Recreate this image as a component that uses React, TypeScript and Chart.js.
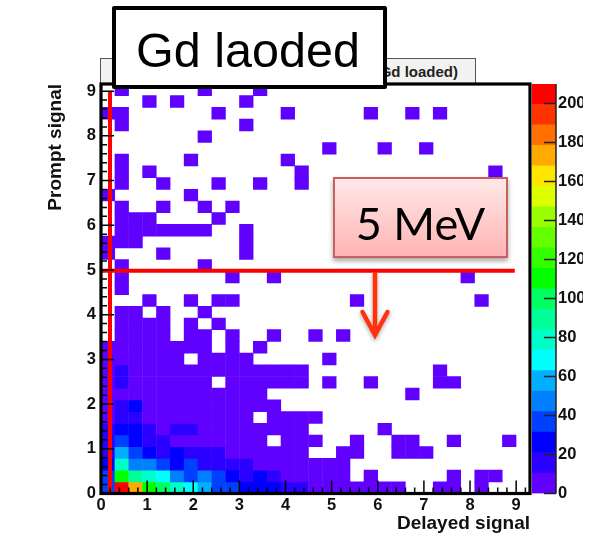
import React, { useEffect, useRef } from "react";
import { Chart, registerables } from "chart.js";

Chart.register(...registerables);

const FONT = "'Liberation Sans', Arial, sans-serif";
const xTitle = "Delayed signal";
const yTitle = "Prompt signal";
const X_MAX = 9.3;
const Y_MAX = 9.16;
const COL_WIDTH = 0.3;
const ROW_COUNT = 35;
const Z_MAX = 210;
const Z_STEP = 10.5;
const xMajorTicks = [0, 1, 2, 3, 4, 5, 6, 7, 8, 9];
const yMajorTicks = [0, 1, 2, 3, 4, 5, 6, 7, 8, 9];
const zTicks = [0, 20, 40, 60, 80, 100, 120, 140, 160, 180, 200];

const palette = [
  "#6000ff", "#2b00ff", "#0000ff", "#0040ff", "#0080ff", "#00b0ff", "#00ffff", "#00ffc8", "#00ff99", "#00ff60",
  "#00ff00", "#33ff00", "#66ff00", "#99ff00", "#ddff00", "#ffe600", "#ffaa00", "#ff7000", "#ff3300", "#ff0000",
];

// Histogram counts, top row first; each row has one value per 0.3-wide column.
const counts: number[][] = [
  [0,5,0,0,0,0,0,5,0,0,0,5,0,0,0,0,0,0,0,0,0,0,0,0,0,0,0,0,0,0,0],
  [0,0,0,5,0,5,0,0,0,0,5,0,0,0,0,0,0,0,0,0,0,0,0,0,0,0,0,0,0,0,0],
  [5,5,0,0,0,0,0,0,5,0,0,0,0,5,0,0,0,0,0,5,0,0,5,0,5,0,0,0,0,0,0],
  [0,5,0,0,0,0,0,0,0,0,5,0,0,0,0,0,0,0,0,0,0,0,0,0,0,0,0,0,0,0,0],
  [0,0,0,0,0,0,0,5,0,0,0,0,0,0,0,0,0,0,0,0,0,0,0,0,0,0,0,0,0,0,0],
  [0,0,0,0,0,0,0,0,0,0,0,0,0,0,0,0,5,0,0,0,5,0,0,5,0,0,0,0,0,0,0],
  [0,5,0,0,0,0,5,0,0,0,0,0,0,5,0,0,0,0,0,0,0,0,0,0,0,0,0,0,0,0,0],
  [0,5,0,5,0,0,0,0,0,0,0,0,0,0,5,0,0,0,0,0,0,0,0,0,0,0,0,0,5,0,0],
  [0,5,0,0,5,0,0,0,5,0,0,5,0,0,5,0,0,0,0,0,0,0,0,0,0,0,0,0,0,0,0],
  [5,0,0,0,0,0,5,0,0,0,0,0,0,0,0,0,0,0,0,0,0,0,0,0,0,0,0,0,0,0,0],
  [0,5,0,0,5,0,0,5,0,5,0,0,0,0,0,0,0,0,0,0,0,0,0,0,0,0,0,0,0,0,0],
  [0,5,5,5,0,0,0,0,5,0,0,0,0,0,0,0,0,0,0,0,0,0,0,0,0,0,0,0,0,0,0],
  [0,5,5,5,5,5,5,5,0,0,5,0,0,0,0,0,0,0,0,0,0,0,0,0,0,0,0,0,0,0,0],
  [5,5,5,0,0,0,0,0,0,0,5,0,0,0,0,0,0,0,0,0,0,0,0,0,0,0,0,0,0,0,0],
  [5,0,0,0,5,0,0,0,0,0,5,0,0,0,0,0,0,0,0,0,0,0,0,0,0,0,0,0,0,0,0],
  [0,5,0,0,0,0,0,5,0,0,0,0,0,0,0,0,0,0,0,0,0,0,0,0,0,0,0,0,0,0,0],
  [0,5,0,0,0,0,0,0,0,5,0,0,5,0,0,0,0,0,0,0,0,0,0,0,0,0,5,0,0,0,0],
  [0,5,0,0,0,0,0,0,0,0,0,0,0,0,0,0,0,0,0,0,0,0,0,0,0,0,0,0,0,0,0],
  [0,0,0,5,0,0,5,0,5,5,0,0,0,0,0,0,0,0,5,0,0,0,0,0,0,0,0,5,0,0,0],
  [0,5,5,0,5,0,0,5,0,0,0,0,0,0,0,0,0,0,0,0,0,0,0,0,0,0,0,0,0,0,0],
  [0,5,5,5,5,0,5,0,5,0,0,0,0,0,0,0,0,0,0,0,0,0,0,0,0,0,0,0,0,0,0],
  [0,5,5,5,5,0,5,5,0,5,0,0,5,0,0,5,0,5,0,0,0,0,0,0,0,0,0,0,0,0,0],
  [5,5,5,5,5,5,5,5,0,5,0,5,0,0,0,0,0,0,0,0,0,0,0,0,0,0,0,0,0,0,0],
  [5,5,5,5,5,5,0,5,5,5,5,0,0,0,0,0,5,0,0,0,0,0,0,0,0,0,0,0,0,0,0],
  [5,16,5,5,5,5,5,5,5,5,5,5,5,5,5,0,0,0,0,0,0,0,0,0,5,0,0,0,0,0,0],
  [5,16,5,5,5,5,5,5,0,5,5,5,5,5,5,0,5,0,0,5,0,0,0,0,5,5,0,0,0,0,0],
  [5,5,5,5,5,5,5,5,5,5,5,5,0,0,0,0,0,0,0,0,0,0,5,0,0,0,0,0,0,0,0],
  [5,16,26,5,5,5,5,5,5,5,5,5,5,0,0,0,0,0,0,0,0,0,0,0,0,0,0,0,0,0,0],
  [5,16,16,5,5,5,5,5,5,5,5,0,5,5,5,5,0,0,0,0,0,0,0,0,0,0,0,0,0,0,0],
  [16,26,26,16,5,16,16,5,5,5,5,5,5,5,5,0,0,0,0,0,5,0,0,0,0,0,0,0,0,0,0],
  [16,37,26,16,16,5,5,5,5,5,5,5,0,5,5,5,0,0,5,0,0,5,5,0,0,5,0,0,0,5,0],
  [16,58,37,26,16,26,16,16,16,5,5,5,5,5,5,0,0,5,5,0,0,5,5,5,0,0,0,0,0,0,0],
  [26,79,47,47,37,26,37,16,16,16,16,5,5,5,5,5,5,5,0,0,0,0,0,0,0,0,0,0,0,0,0],
  [37,110,89,79,68,47,37,47,37,26,16,26,16,5,5,5,5,5,0,5,0,0,0,0,0,5,0,5,5,0,0],
  [37,205,173,110,100,79,68,58,37,37,26,26,26,16,16,5,5,5,5,5,5,5,0,0,5,5,0,5,0,0,0],
];

// Reference lines, in axis units.
const verticalLineX = [0.195, 0.195];
const verticalLineY = [0, 9];
const horizontalLineX = [-0.02, 8.97];
const horizontalLineY = [4.98, 4.98];

const colorFor = (v: number) => palette[Math.min(palette.length - 1, Math.floor(v / Z_STEP))];

export default function App() {
  const mainRef = useRef<HTMLCanvasElement>(null);
  const barRef = useRef<HTMLCanvasElement>(null);

  useEffect(() => {
    document.body.style.margin = "0";
    const rowH = Y_MAX / ROW_COUNT;
    const eps = 0.008;

    const rowSets = counts.map((row, k) => {
      const pts: any[] = [];
      const cols: string[] = [];
      row.forEach((v, j) => {
        if (!v) return;
        pts.push({
          x: (j + 0.5) * COL_WIDTH,
          y: [Y_MAX - (k + 1) * rowH - eps, Y_MAX - k * rowH + eps],
        });
        cols.push(colorFor(v));
      });
      return {
        type: "bar" as const,
        label: `row ${k}`,
        data: pts,
        backgroundColor: cols,
        borderWidth: 0,
        barPercentage: 1.03,
        categoryPercentage: 1,
        grouped: false,
        order: 5,
      };
    });

    const lineSet = (label: string, xs: number[], ys: number[]) => ({
      type: "line" as const,
      label,
      data: xs.map((x, i) => ({ x, y: ys[i] })),
      borderColor: "#ff0000",
      borderWidth: 4,
      pointRadius: 0,
      clip: false as any,
      order: -1,
    });

    const frameTicks = {
      id: "frameTicks",
      afterDatasetsDraw(chart: any) {
        const { ctx, chartArea: a, scales } = chart;
        const { x, y } = scales;
        ctx.save();
        ctx.strokeStyle = "#000";
        ctx.lineWidth = 1.5;
        ctx.beginPath();
        for (let i = 0; i <= 46; i++) {
          const v = i * 0.2;
          const major = i % 5 === 0;
          const px = x.getPixelForValue(v);
          ctx.moveTo(px, a.bottom);
          ctx.lineTo(px, a.bottom - (major ? 13 : 6));
          const py = y.getPixelForValue(v);
          if (v <= Y_MAX) {
            ctx.moveTo(a.left, py);
            ctx.lineTo(a.left + (major ? 13 : 6), py);
          }
        }
        ctx.stroke();
        ctx.lineWidth = 3.2;
        ctx.strokeRect(a.left, a.top, a.right - a.left, a.bottom - a.top);
        ctx.restore();
      },
    };

    const tickFont = { family: FONT, size: 16.5, weight: "bold" as const };
    const titleFont = { family: FONT, size: 19, weight: "bold" as const };
    const main = new Chart(mainRef.current!, {
      type: "bar",
      data: {
        datasets: [
          ...rowSets,
          lineSet("vertical", verticalLineX, verticalLineY),
          lineSet("horizontal", horizontalLineX, horizontalLineY),
        ] as any,
      },
      options: {
        animation: false,
        responsive: false,
        layout: { padding: { left: 0, right: 65, top: 84, bottom: 0 } },
        plugins: { legend: { display: false }, tooltip: { enabled: false } },
        scales: {
          x: {
            type: "linear",
            offset: false,
            min: 0,
            max: X_MAX,
            afterFit: (s: any) => { s.height = 41.5; },
            afterBuildTicks: (s: any) => { s.ticks = xMajorTicks.map((value) => ({ value })); },
            grid: { display: false, drawTicks: false, offset: false },
            border: { display: false },
            ticks: { font: tickFont, color: "#111", padding: 2, autoSkip: false, maxRotation: 0, includeBounds: false },
            title: { display: true, text: xTitle, align: "end", font: titleFont, color: "#111", padding: 0 },
          },
          y: {
            type: "linear",
            min: 0,
            max: Y_MAX,
            afterFit: (s: any) => { s.width = 101; },
            afterBuildTicks: (s: any) => { s.ticks = yMajorTicks.map((value) => ({ value })); },
            grid: { display: false, drawTicks: false },
            border: { display: false },
            ticks: { font: tickFont, color: "#111", padding: 5, autoSkip: false, includeBounds: false },
            title: { display: true, text: yTitle, align: "end", font: titleFont, color: "#111", padding: { top: 44, bottom: 44 } },
          },
        },
      } as any,
      plugins: [frameTicks],
    });

    const barTicks = {
      id: "barTicks",
      afterDatasetsDraw(chart: any) {
        const { ctx, chartArea: a, scales } = chart;
        ctx.save();
        ctx.strokeStyle = "#222";
        ctx.lineWidth = 1.5;
        ctx.beginPath();
        zTicks.forEach((v) => {
          const py = scales.y.getPixelForValue(v);
          ctx.moveTo(a.right, py);
          ctx.lineTo(a.right - 12, py);
        });
        ctx.moveTo(a.right, a.top);
        ctx.lineTo(a.right, a.bottom);
        ctx.stroke();
        ctx.restore();
      },
    };

    const bar = new Chart(barRef.current!, {
      type: "bar",
      data: {
        labels: ["z"],
        datasets: palette.map((c, i) => ({
          label: `level ${i}`,
          data: [Z_STEP],
          backgroundColor: c,
          borderWidth: 0,
          barPercentage: 1,
          categoryPercentage: 1,
          stack: "z",
        })),
      },
      options: {
        animation: false,
        responsive: false,
        layout: { padding: { left: 1, right: 0, top: 84, bottom: 41.5 } },
        plugins: { legend: { display: false }, tooltip: { enabled: false } },
        scales: {
          x: { display: false, stacked: true },
          y: {
            position: "right",
            stacked: true,
            min: 0,
            max: Z_MAX,
            afterFit: (s: any) => { s.width = 27; },
            afterBuildTicks: (s: any) => { s.ticks = zTicks.map((value) => ({ value })); },
            grid: { display: false, drawTicks: false },
            border: { display: false },
            ticks: { font: tickFont, color: "#111", padding: 2, autoSkip: false, includeBounds: false },
          },
        },
      } as any,
      plugins: [barTicks],
    });

    return () => {
      main.destroy();
      bar.destroy();
    };
  }, []);

  return (
    <div style={{ position: "fixed", left: 0, top: 0, width: 595, height: 535, overflow: "hidden", background: "#fff" }}>
      {/* histogram title tab behind the annotation box */}
      <div
        style={{
          position: "absolute", left: 100, top: 58, width: 376, height: 26, boxSizing: "border-box",
          background: "#f2f2f2", border: "1px solid #555", borderBottom: "none",
          font: `bold 15px ${FONT}`, color: "#222", textAlign: "right", paddingRight: 17, lineHeight: "25px",
        }}
      >
        (Gd loaded)
      </div>
      <canvas ref={mainRef} width={595} height={535} style={{ position: "absolute", left: 0, top: 0 }} />
      <canvas ref={barRef} width={52} height={535} style={{ position: "absolute", left: 531, top: 0 }} />
      <svg width={595} height={535} style={{ position: "absolute", left: 0, top: 0 }}>
        <defs>
          <filter id="arrowShadow" x="-30%" y="-10%" width="160%" height="130%">
            <feDropShadow dx="0" dy="2" stdDeviation="2" floodColor="#000" floodOpacity="0.35" />
          </filter>
        </defs>
        <g filter="url(#arrowShadow)" stroke="#ff3010" fill="none" strokeWidth={4.5} strokeLinecap="round" strokeLinejoin="miter">
          <path d="M375 272 L375 334" strokeLinecap="butt" />
          <path d="M362.5 312 L375 335 L387.5 312" />
        </g>
      </svg>
      <div
        style={{
          position: "absolute", left: 112, top: 6, width: 275, height: 83, boxSizing: "border-box",
          background: "#fff", border: "4px solid #000", borderRadius: 2, paddingRight: 3,
          font: `48.5px ${FONT}`, color: "#000", textAlign: "center", lineHeight: "80px",
        }}
      >
        Gd laoded
      </div>
      <div
        style={{
          position: "absolute", left: 333, top: 177, width: 175, height: 81, boxSizing: "border-box",
          background: "linear-gradient(#ffe8e8, #ffb4b4)", border: "2px solid #c86060",
          boxShadow: "0 3px 5px rgba(0,0,0,0.35)",
          font: `45px Lato, 'Open Sans', sans-serif`, color: "#000", textAlign: "center", lineHeight: "88px",
        }}
      >
        5 MeV
      </div>
    </div>
  );
}
